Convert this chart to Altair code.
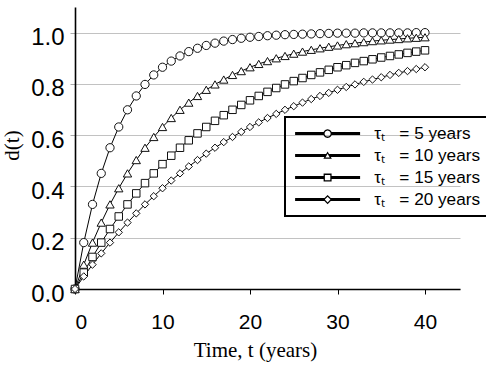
import math

import altair as alt
import pandas as pd

# Time axis (years) and the fraction d(t) for each time constant
years = [0, 1, 2, 3, 4, 5, 6, 7, 8, 9, 10, 11, 12, 13, 14, 15, 16, 17, 18, 19, 20,
         21, 22, 23, 24, 25, 26, 27, 28, 29, 30, 31, 32, 33, 34, 35, 36, 37, 38, 39, 40]

d_tau5 = [0.000, 0.181, 0.330, 0.451, 0.551, 0.632, 0.699, 0.753, 0.798, 0.835, 0.865,
          0.889, 0.909, 0.926, 0.939, 0.950, 0.959, 0.967, 0.973, 0.978, 0.982,
          0.985, 0.988, 0.990, 0.992, 0.993, 0.994, 0.995, 0.996, 0.997, 0.998,
          0.998, 0.998, 0.999, 0.999, 0.999, 0.999, 0.999, 0.999, 1.000, 1.000]
d_tau10 = [0.000, 0.095, 0.181, 0.259, 0.330, 0.393, 0.451, 0.503, 0.551, 0.593, 0.632,
           0.667, 0.699, 0.727, 0.753, 0.777, 0.798, 0.817, 0.835, 0.850, 0.865,
           0.878, 0.889, 0.900, 0.909, 0.918, 0.926, 0.933, 0.939, 0.945, 0.950,
           0.955, 0.959, 0.963, 0.967, 0.970, 0.973, 0.975, 0.978, 0.980, 0.982]
d_tau15 = [0.000, 0.064, 0.125, 0.181, 0.234, 0.283, 0.330, 0.373, 0.413, 0.451, 0.487,
           0.520, 0.551, 0.580, 0.607, 0.632, 0.656, 0.678, 0.699, 0.718, 0.736,
           0.753, 0.769, 0.784, 0.798, 0.811, 0.823, 0.835, 0.845, 0.855, 0.865,
           0.873, 0.882, 0.889, 0.896, 0.903, 0.909, 0.915, 0.921, 0.926, 0.931]
d_tau20 = [0.000, 0.049, 0.095, 0.139, 0.181, 0.221, 0.259, 0.295, 0.330, 0.362, 0.393,
           0.423, 0.451, 0.478, 0.503, 0.528, 0.551, 0.573, 0.593, 0.613, 0.632,
           0.650, 0.667, 0.683, 0.699, 0.713, 0.727, 0.741, 0.753, 0.765, 0.777,
           0.788, 0.798, 0.808, 0.817, 0.826, 0.835, 0.843, 0.850, 0.858, 0.865]

NB = "\u00a0"
series_labels = [f"τₜ{NB * 3}= 5 years", f"τₜ{NB * 3}= 10 years",
                 f"τₜ{NB * 3}= 15 years", f"τₜ{NB * 3}= 20 years"]
series_values = [d_tau5, d_tau10, d_tau15, d_tau20]

x_ticks = [0, 10, 20, 30, 40]
y_ticks = [0.0, 0.2, 0.4, 0.6, 0.8, 1.0]

df = pd.concat(
    [pd.DataFrame({"t": years, "d": vals, "series": lab})
     for lab, vals in zip(series_labels, series_values)],
    ignore_index=True,
)

# ---- legend glyphs: a thick line with a hollow marker, as filled SVG paths ----
SYM_SIZE = 64
K = math.sqrt(SYM_SIZE) / 2.0  # pixels per path unit


def _poly(points):
    return "M" + " L".join(f"{x / K:.3f},{y / K:.3f}" for x, y in points) + " Z"


def _ring(outer, inner):
    return _poly(outer) + " " + _poly(list(reversed(inner)))


def _line(gap, half_len=32.5, half_w=1.5):
    left = [(-half_len, -half_w), (-gap, -half_w), (-gap, half_w), (-half_len, half_w)]
    right = [(gap, -half_w), (half_len, -half_w), (half_len, half_w), (gap, half_w)]
    return _poly(left) + " " + _poly(right)


def _circle(r, n=28):
    return [(r * math.cos(2 * math.pi * i / n), r * math.sin(2 * math.pi * i / n)) for i in range(n)]


def _square(h):
    return [(-h, -h), (h, -h), (h, h), (-h, h)]


def _diamond(h):
    return [(0, -h), (h, 0), (0, h), (-h, 0)]


def _triangles(side, thick, dy):
    hgt = side * math.sqrt(3) / 2
    outer = [(0, -hgt / 2 + dy), (side / 2, hgt / 2 + dy), (-side / 2, hgt / 2 + dy)]
    cx = sum(p[0] for p in outer) / 3
    cy = sum(p[1] for p in outer) / 3
    rho = side / (2 * math.sqrt(3))
    f = (rho - thick) / rho
    inner = [(cx + (x - cx) * f, cy + (y - cy) * f) for x, y in outer]
    return outer, inner


tri_out, tri_in = _triangles(8.5, 1.2, -0.5)
legend_paths = [
    _line(3.1) + " " + _ring(_circle(4.3), _circle(3.0)),
    _line(1.7) + " " + _ring(tri_out, tri_in),
    _line(2.8) + " " + _ring(_square(4.0), _square(2.7)),
    _line(2.9) + " " + _ring(_diamond(4.6), _diamond(2.8)),
]

plot_shapes = ["circle", "triangle-up", "square", "diamond"]
plot_sizes = [68, 70, 56, 54]

SANS = "Liberation Sans"
SERIF = "Liberation Serif"


def build(legend_stroke):
    base = alt.Chart(df).encode(
        x=alt.X(
            "t:Q",
            scale=alt.Scale(domain=[0, 44], nice=False, zero=True),
            axis=alt.Axis(
                values=x_ticks, grid=False, title="Time, t (years)",
                tickSize=5, tickColor="black", labelPadding=17, labelFontSize=21,
                titleX=180, titleY=67, titleBaseline="alphabetic", titleAlign="center",
                titleFont=SERIF, titleFontSize=21, titleFontWeight="normal",
            ),
        ),
        y=alt.Y(
            "d:Q",
            scale=alt.Scale(domain=[0, 1.1], nice=False),
            axis=alt.Axis(
                values=y_ticks, format=".1f", grid=True, gridColor="#c2c2c2", gridWidth=1,
                title="d(t)", tickSize=5, tickColor="#aaaaaa", labelPadding=6,
                labelFontSize=24, labelOffset=5,
                titleX=-57, titleY=138, titleAngle=270, titleBaseline="alphabetic",
                titleAlign="center", titleFont=SERIF, titleFontSize=21,
                titleFontWeight="normal",
            ),
        ),
    )

    lines = base.mark_line(color="black", strokeWidth=1).encode(detail="series:N")

    points = base.mark_point(
        fill="white", stroke="#111111", strokeWidth=1, opacity=1, fillOpacity=1
    ).encode(
        shape=alt.Shape("series:N", scale=alt.Scale(domain=series_labels, range=plot_shapes),
                        legend=None),
        size=alt.Size("series:N", scale=alt.Scale(type="ordinal", domain=series_labels,
                                                  range=plot_sizes), legend=None),
    )

    key = base.transform_filter("false").mark_point(
        filled=True, color="black", opacity=1, strokeWidth=0
    ).encode(
        shape=alt.Shape(
            "series:N",
            scale=alt.Scale(domain=series_labels, range=legend_paths),
            legend=alt.Legend(
                title=None, orient="none", legendX=210, legendY=110, padding=8,
                strokeColor="black", symbolSize=SYM_SIZE, symbolStrokeWidth=0,
                symbolFillColor="black", symbolOffset=26, labelOffset=38,
                labelFont=SANS, labelFontSize=17.2, labelColor="black", rowPadding=4,
                labelLimit=200,
            ),
        )
    )

    chart = alt.layer(lines, points, key).resolve_scale(shape="independent").properties(
        width=385,
        height=282,
        autosize=alt.AutoSizeParams(type="none"),
        padding={"left": 75, "top": 7, "right": 26, "bottom": 83},
        background="white",
    ).configure_view(stroke="transparent").configure_axis(
        labelFont=SANS, labelColor="black", titleColor="black",
        domainColor="black", domainWidth=1.6,
    )
    if legend_stroke:
        chart = chart.configure_legend(strokeWidth=2)
    return chart


chart = build(True)
try:
    chart.to_dict()
except Exception:
    chart = build(False)

chart.save("out.html", embed_options={"renderer": "svg", "actions": False})
